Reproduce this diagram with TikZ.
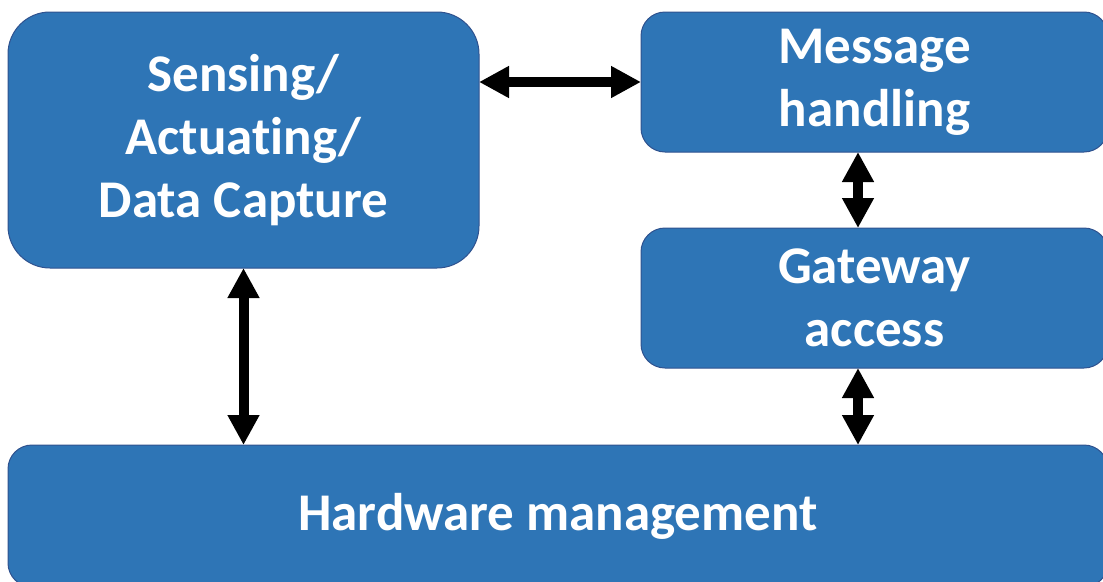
\documentclass[tikz,border=0pt]{standalone}
\usepackage{fontspec}
\setmainfont{Carlito}[Ligatures=NoCommon]
\usetikzlibrary{arrows.meta}

\definecolor{boxblue}{RGB}{46,117,182}
\definecolor{boxline}{RGB}{47,82,143}

\begin{document}
\begin{tikzpicture}[
        x = 1pt, y = 1pt,
        line join=round,
        boxstyle/.style = {draw=boxline, line width=1pt, fill=boxblue, text=white,
            align=center, outer sep=0pt, inner sep=0pt,
            font=\fontsize{53}{63}\selectfont\bfseries},
        arrowstyle/.style = {line width=10pt, black,
            {Triangle[length=30pt, width=30pt]}-{Triangle[length=30pt, width=30pt]}}
    ]

    \useasboundingbox (0, 0) rectangle (1103, -581);

    \node[boxstyle, rounded corners=42pt, minimum width=471pt, minimum height=256pt]
        (sense) at (243.5, -140) {Sensing/\\Actuating/\\Data Capture};
    \node[boxstyle, rounded corners=24pt, minimum width=467pt, minimum height=140pt]
        (msg) at (874.5, -82) {Message\\handling};
    \node[boxstyle, rounded corners=24pt, minimum width=467pt, minimum height=140pt]
        (gate) at (874.5, -298) {Gateway\\access};
    \node[boxstyle, rounded corners=24pt, minimum width=1100pt, minimum height=142pt]
        (hw) at (558, -516) {Hardware management};

    \draw[arrowstyle] (sense.east |- msg.west) -- (msg.west);
    \draw[arrowstyle] (sense.south) -- (sense.south |- hw.north);
    \draw[arrowstyle] ([xshift=-16.5pt]msg.south) -- ([xshift=-16.5pt]gate.north);
    \draw[arrowstyle] ([xshift=-16.5pt]gate.south) -- ([xshift=-16.5pt]gate.south |- hw.north);

\end{tikzpicture}
\end{document}
